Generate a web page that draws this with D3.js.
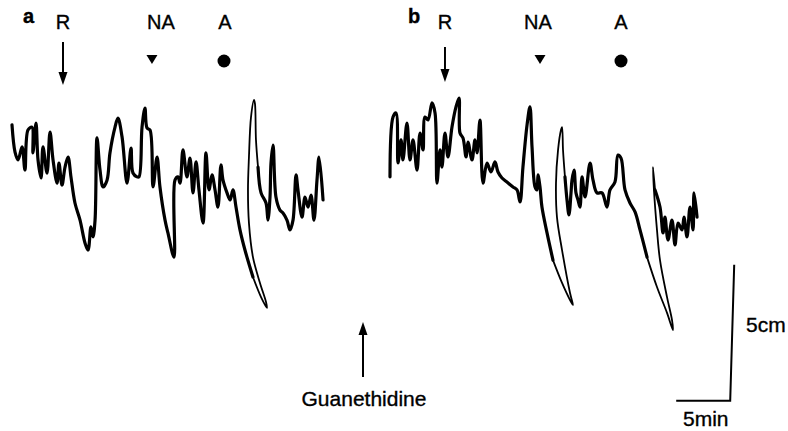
<!DOCTYPE html>
<html>
<head>
  <meta charset="utf-8">
  <title>guanethidine traces</title>
  <script src="https://cdnjs.cloudflare.com/ajax/libs/d3/7.8.5/d3.min.js"></script>
  <style>
    body { margin: 0; background: #fff; }
    text { font-family: "Liberation Sans", Arial, Helvetica, sans-serif; fill: #000; stroke: #000; stroke-width: 0.35; }
  </style>
</head>
<body>
<script>
var width = 788, height = 431;

// trace values: [time (min), tension (cm)]
var traceA_pre = [[0,7.54],[0.28,6.54],[0.56,6.25],[0.93,6.73],[1.2,5.88],[1.48,7.35],[1.85,7.46],[1.94,6.51],[2.22,7.61],[2.41,6.25],[2.69,5.59],[2.87,6.73],[3.24,5.77],[3.52,7.28],[3.8,6.25],[4.17,5.4],[4.35,6.14],[4.63,5.33],[4.91,5.99],[5.19,6.36],[5.46,5.63],[5.83,4.67],[6.3,4.04],[6.76,3.2],[7.04,2.94],[7.31,3.79],[7.5,3.42],[7.69,4.04],[7.87,7.06],[8.15,5.88],[8.43,5.26],[8.8,5.51],[9.07,6.51],[9.54,7.46],[9.81,7.79],[10.19,7.1],[10.65,5.4],[11.02,6.69],[11.2,5.77],[11.57,5.63],[11.76,5.63],[12.04,7.46],[12.31,8.16],[12.5,7.43],[12.78,7.35],[13.06,5.26],[13.43,6.36],[13.7,5.26],[14.17,4.04],[14.44,3.57],[15.0,2.68],[15.09,5.51],[15.37,5.63],[15.56,5.4],[15.83,6.62],[16.2,5.63],[16.48,6.32],[16.76,5.04],[17.04,6.18],[17.31,5.15],[17.69,3.93],[17.96,6.51],[18.24,5.15],[18.52,5.7],[18.8,5.15],[19.07,4.52],[19.35,6.07],[19.54,5.51],[19.91,5.04],[20.19,4.78],[20.46,5.15],[20.74,4.52],[21.11,3.68],[21.57,2.94],[22.31,1.95]];
var traceA_loop = [[22.31,1.95],[23.06,1.21],[23.61,0.81],[23.52,1.03],[22.96,1.73],[22.31,2.68],[21.94,3.93],[21.85,5.15],[21.94,6.36],[22.13,7.83],[22.41,8.46],[22.5,8.31],[22.59,6.99],[22.78,5.99]];
var traceA_post = [[22.78,5.99],[23.06,5.04],[23.52,4.67],[23.7,4.04],[23.89,4.89],[23.98,6.14],[24.17,6.8],[24.44,4.89],[24.81,4.41],[25.09,4.3],[25.46,4.04],[25.74,3.68],[26.02,4.04],[26.3,5.7],[26.48,5.15],[26.85,4.15],[27.13,4.89],[27.41,4.52],[27.69,4.96],[27.96,4.04],[28.24,5.51],[28.43,6.36],[28.8,4.78]];

var traceB_pre = [[35.0,5.63],[35.28,7.83],[35.56,7.98],[35.74,6.14],[36.02,6.99],[36.2,6.25],[36.57,7.61],[36.85,6.25],[37.13,6.99],[37.5,5.88],[37.78,7.24],[38.06,6.62],[38.24,7.83],[38.52,7.72],[38.89,8.35],[39.17,7.98],[39.35,5.4],[39.63,6.62],[39.81,5.99],[40.09,7.24],[40.37,6.36],[40.74,7.46],[41.11,8.2],[41.39,8.53],[41.48,7.24],[41.76,7.06],[42.04,6.36],[42.22,6.91],[42.59,6.25],[42.87,6.99],[43.06,6.51],[43.33,7.72],[43.61,5.4],[43.98,6.14],[44.35,5.81],[44.72,6.18],[45.0,5.81],[45.37,5.59],[45.83,5.44],[46.39,5.26],[46.76,5.15],[47.04,4.71],[47.31,5.99],[47.69,7.54],[47.96,8.2],[48.15,6.73],[48.43,5.26],[48.61,5.15],[48.7,5.7],[48.89,5.26],[49.07,4.52],[49.54,3.57],[50.09,2.57]];
var traceB_loopNA = [[50.09,2.57],[50.93,1.73],[51.67,1.1],[51.94,0.92],[51.67,1.36],[50.93,2.94],[50.46,4.15],[50.37,5.4],[50.56,6.62],[50.83,7.35],[50.93,7.46],[51.02,6.62],[51.2,5.63]];
var traceB_mid = [[51.2,5.63],[51.39,4.78],[51.57,4.23],[51.76,5.04],[51.85,5.51],[52.04,5.88],[52.22,5.04],[52.41,4.78],[52.59,4.52],[52.78,5.63],[53.06,4.89],[53.52,6.14],[53.8,5.51],[54.17,5.04],[54.63,5.04],[55.09,4.52],[55.37,5.15],[55.83,5.44],[56.11,6.43],[56.39,6.32],[56.76,5.15],[57.22,4.67],[57.69,4.34],[58.15,3.68],[58.8,2.68]];
var traceB_loopA = [[58.8,2.68],[59.72,1.58],[60.65,0.63],[61.2,0],[61.11,0.37],[60.65,1.21],[60.0,2.57],[59.72,3.68],[59.44,5.15],[59.35,5.99],[59.54,5.15]];
var traceB_post = [[59.54,5.15],[60.0,4.52],[60.28,3.57],[60.46,4.15],[60.74,3.31],[61.11,4.04],[61.39,3.13],[61.67,3.93],[62.04,3.68],[62.22,4.15],[62.5,3.42],[62.78,4.52],[63.06,3.68],[63.15,5.04],[63.43,4.15]];

// drug applications (min)
var drugs = ["R", "NA", "A"];
var doseTimesA = [4.72, 12.96, 19.63];
var doseTimesB = [40.09, 48.89, 56.39];
var guanethidineTime = 32.5;

// calibration bar
var barMin = 5, barCm = 5;

var x = d3.scaleLinear().domain([0, 5]).range([12, 66]);    // 5 min = 54 px
var y = d3.scaleLinear().domain([0, 5]).range([330, 194]);  // 5 cm = 136 px

var svg = d3.select("body").append("svg").attr("width", width).attr("height", height);

var line = d3.line()
  .x(function(d) { return x(d[0]); })
  .y(function(d) { return y(d[1]); })
  .curve(d3.curveCatmullRom.alpha(0.5));

// slow parts drawn heavy, fast pen sweeps thin
var slow = [traceA_pre, traceA_post, traceB_pre, traceB_mid, traceB_post];
var fast = [traceA_loop, traceB_loopNA, traceB_loopA];

svg.selectAll("path.fast").data(fast).enter().append("path")
  .attr("class", "fast")
  .attr("d", line)
  .attr("fill", "none").attr("stroke", "#000")
  .attr("stroke-width", 1.8).attr("stroke-linejoin", "round").attr("stroke-linecap", "round");

svg.selectAll("path.slow").data(slow).enter().append("path")
  .attr("class", "slow")
  .attr("d", line)
  .attr("fill", "none").attr("stroke", "#000")
  .attr("stroke-width", 3.2).attr("stroke-linejoin", "round").attr("stroke-linecap", "round");

// dir 1 = pointing down (head at y1), -1 = pointing up (head at y0)
function arrow(cx, y0, y1, dir) {
  var g = svg.append("g");
  var head = 13, hw = 4.5;
  if (dir > 0) {
    g.append("line").attr("x1", cx).attr("x2", cx).attr("y1", y0).attr("y2", y1 - head + 1)
      .attr("stroke", "#000").attr("stroke-width", 2);
    g.append("path").attr("d", "M" + (cx - hw) + "," + (y1 - head) + "L" + (cx + hw) + "," + (y1 - head) + "L" + cx + "," + y1 + "Z");
  } else {
    g.append("line").attr("x1", cx).attr("x2", cx).attr("y1", y0 + head - 1).attr("y2", y1)
      .attr("stroke", "#000").attr("stroke-width", 2);
    g.append("path").attr("d", "M" + (cx - hw) + "," + (y0 + head) + "L" + (cx + hw) + "," + (y0 + head) + "L" + cx + "," + y0 + "Z");
  }
}

var panels = [
  { name: "a", lx: 23, times: doseTimesA, arrowTop: 42, arrowBot: 85, textDx: [0, 9, 1] },
  { name: "b", lx: 408, times: doseTimesB, arrowTop: 47, arrowBot: 82, textDx: [0, -2, 0] }
];

panels.forEach(function(p) {
  svg.append("text").attr("x", p.lx).attr("y", 23)
    .attr("font-size", 20).attr("font-weight", "bold").text(p.name);

  drugs.forEach(function(dname, i) {
    svg.append("text").attr("x", x(p.times[i]) + p.textDx[i]).attr("y", 29)
      .attr("text-anchor", "middle").attr("font-size", 20).text(dname);
  });

  arrow(x(p.times[0]), p.arrowTop, p.arrowBot, 1);

  var tx = x(p.times[1]);
  svg.append("path").attr("d", "M" + (tx - 5.5) + ",55L" + (tx + 5.5) + ",55L" + tx + ",64Z");

  svg.append("circle").attr("cx", x(p.times[2])).attr("cy", 61).attr("r", 6.5);
});

// guanethidine
arrow(x(guanethidineTime), 322, 377, -1);
svg.append("text").attr("x", x(guanethidineTime) + 1).attr("y", 406)
  .attr("text-anchor", "middle").attr("font-size", 21).text("Guanethidine");

// calibration bar
var barT = 66.5, barV = -2.6;
svg.append("path")
  .attr("d", "M" + x(barT - barMin) + "," + y(barV) + "L" + x(barT) + "," + y(barV) +
             "L" + (x(barT) + 4) + "," + y(barV + barCm))
  .attr("fill", "none").attr("stroke", "#000").attr("stroke-width", 2);
svg.append("text").attr("x", 746).attr("y", 332).attr("font-size", 21).text(barCm + "cm");
svg.append("text").attr("x", 683).attr("y", 426).attr("font-size", 21).text(barMin + "min");
</script>
</body>
</html>
